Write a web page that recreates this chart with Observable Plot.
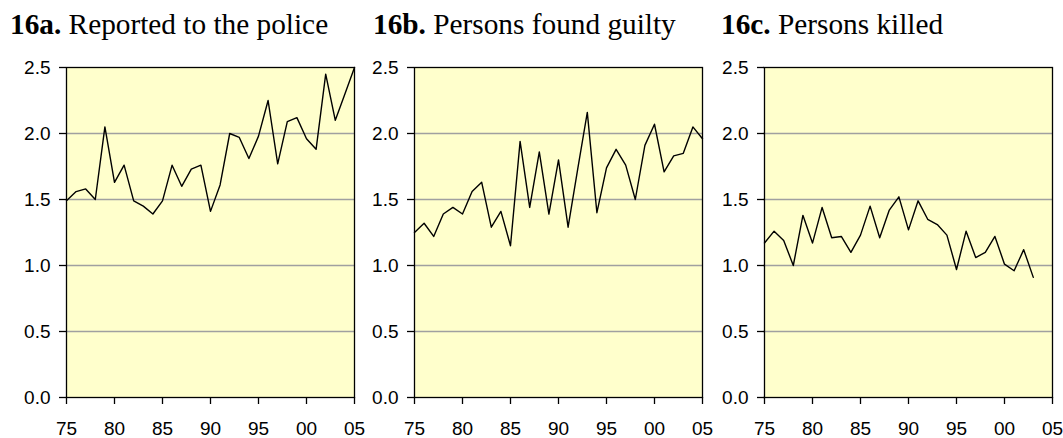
<!DOCTYPE html>
<html>
<head>
<meta charset="utf-8">
<script src="https://cdn.jsdelivr.net/npm/d3@7"></script>
<script src="https://cdn.jsdelivr.net/npm/@observablehq/plot@0.6"></script>
<style>
  html, body { margin: 0; padding: 0; background: #fff; }
  #root { position: relative; width: 1063px; height: 438px; overflow: hidden; }
  .title { position: absolute; top: 6px; font-family: "Liberation Serif", "Times New Roman", serif; font-size: 29.3px; white-space: nowrap; color: #000; line-height: 36px; }
  .title b { font-weight: bold; }
  .panel { position: absolute; top: 50px; }
</style>
</head>
<body>
<div id="root"></div>
<script>
// Data (years 1975–2005)
const years = [1975,1976,1977,1978,1979,1980,1981,1982,1983,1984,1985,1986,1987,1988,1989,1990,
               1991,1992,1993,1994,1995,1996,1997,1998,1999,2000,2001,2002,2003,2004,2005];
const reported = [1.49,1.56,1.58,1.50,2.05,1.63,1.76,1.49,1.45,1.39,1.49,1.76,1.60,1.73,1.76,1.41,
                  1.61,2.00,1.97,1.81,1.98,2.25,1.77,2.09,2.12,1.96,1.88,2.45,2.10,2.30,2.50];
const guilty   = [1.25,1.32,1.22,1.39,1.44,1.39,1.56,1.63,1.29,1.41,1.15,1.94,1.44,1.86,1.39,1.80,
                  1.29,1.73,2.16,1.40,1.74,1.88,1.76,1.50,1.91,2.07,1.71,1.83,1.85,2.05,1.96];
const killed   = [1.17,1.26,1.19,1.00,1.38,1.17,1.44,1.21,1.22,1.10,1.23,1.45,1.21,1.42,1.52,1.27,
                  1.49,1.35,1.31,1.23,0.97,1.26,1.06,1.10,1.22,1.01,0.96,1.12,0.91];
const yTicks = [0, 0.5, 1.0, 1.5, 2.0, 2.5];
const xTicks = [1975, 1980, 1985, 1990, 1995, 2000, 2005];
const gridValues = [0.5, 1.0, 1.5, 2.0];
const panels = [
  {id: "16a.", label: "Reported to the police", values: reported, left: 0,   titleLeft: 10},
  {id: "16b.", label: "Persons found guilty",   values: guilty,   left: 348, titleLeft: 373},
  {id: "16c.", label: "Persons killed",         values: killed,   left: 698, titleLeft: 721}
];

const root = document.getElementById("root");
for (const p of panels) {
  const data = p.values.map((v, i) => ({year: years[i], value: v}));
  const t = document.createElement("div");
  t.className = "title";
  t.style.left = p.titleLeft + "px";
  t.innerHTML = "<b>" + p.id + "</b> " + p.label;
  root.appendChild(t);

  const chart = Plot.plot({
    width: 364,
    height: 388,
    marginLeft: 66,
    marginRight: 10,
    marginTop: 17,
    marginBottom: 41,
    style: {fontFamily: "'Liberation Sans', Arial, sans-serif", fontSize: "19px", color: "#000", background: "transparent", overflow: "visible"},
    x: {domain: [1975, 2005]},
    y: {domain: [0, 2.5]},
    marks: [
      Plot.frame({fill: "#ffffcc", stroke: null}),
      Plot.ruleY(gridValues, {stroke: "#a0a0a0", strokeWidth: 1.3}),
      Plot.line(data, {x: "year", y: "value", stroke: "#000", strokeWidth: 1.4}),
      Plot.frame({stroke: "#000", strokeWidth: 1.3}),
      Plot.axisY(yTicks, {tickSize: 7, tickPadding: 9, tickFormat: d => d.toFixed(1), label: null, stroke: "#000", strokeWidth: 1.3}),
      Plot.axisX(xTicks, {tickSize: 7, tickPadding: 17, tickFormat: d => String(d % 100).padStart(2, "0"), label: null, stroke: "#000", strokeWidth: 1.3})
    ]
  });
  const wrap = document.createElement("div");
  wrap.className = "panel";
  wrap.style.left = p.left + "px";
  wrap.appendChild(chart);
  root.appendChild(wrap);
}
</script>
</body>
</html>
